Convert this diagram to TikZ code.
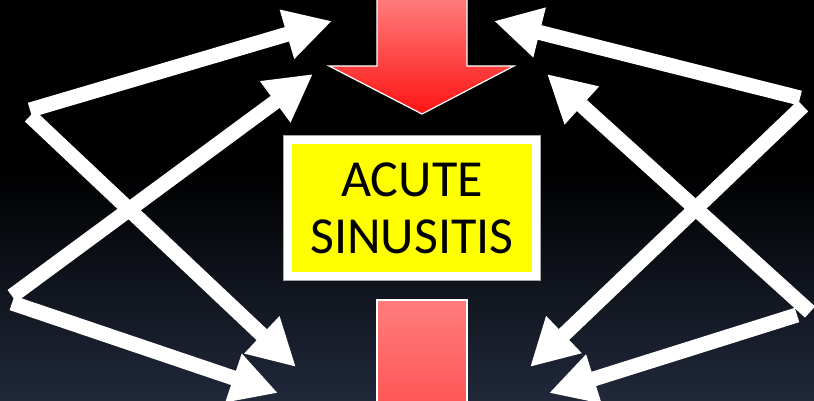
\documentclass[tikz,border=0pt]{standalone}
\usepackage{fontspec}
\setmainfont{Carlito}
\usetikzlibrary{arrows.meta,positioning,calc}
\definecolor{bgbot}{HTML}{20283A}
\definecolor{redlight}{HTML}{FF7C7C}
\definecolor{reddark}{HTML}{FF1414}
\definecolor{redmid}{HTML}{FF5656}
\definecolor{boxyellow}{HTML}{FFFF00}
\tikzset{
  flow/.style={white, line width=15pt, -{Triangle[length=47pt,width=48pt]}},
  bigarrow/.style={draw=white, line width=1.2pt},
  diagbox/.style={draw=white, line width=8pt, fill=boxyellow,
                  preaction={draw=gray!70, line width=9.6pt},
                  minimum width=248pt, minimum height=136pt,
                  align=center, font=\fontsize{52}{57}\selectfont,
                  inner sep=0pt}
}

\begin{document}
\begin{tikzpicture}[x=1pt,y=-1pt]
  % background
  \fill[black] (0,0) rectangle (814,170);
  \shade[top color=black, bottom color=bgbot] (0,170) rectangle (814,401);
  \useasboundingbox (0,0) rectangle (814,401);

  % red arrows
  \shade[bigarrow, top color=redlight, bottom color=reddark]
    (377,-2) -- (467,-2) -- (467,66) -- (514,66) -- (422,114)
    -- (329,66) -- (377,66) -- cycle;
  \shade[bigarrow, top color=redlight, bottom color=redmid]
    (377,300) rectangle (467,404);

  \node[diagbox] (sinus) at (412,208) {ACUTE\\SINUSITIS};

  % left side
  \coordinate (l1) at (30,110);
  \coordinate (l2) at (30,116);
  \coordinate (l3) at (12,296);
  \coordinate (l4) at (12,303);
  \coordinate (ul1) at (332,21);
  \coordinate (ul2) at (313,74);
  \coordinate (dl1) at (296,367);
  \coordinate (dl2) at (278,393);

  \draw[flow] (l1) -- (ul1);
  \draw[flow] (l2) -- (dl1);
  \draw[flow] (l3) -- (ul2);
  \draw[flow] (l4) -- (dl2);

  % right side
  \coordinate (r1) at (800,98);
  \coordinate (r2) at (803,106);
  \coordinate (r3) at (810,312);
  \coordinate (r4) at (797,315);
  \coordinate (ur1) at (494,21);
  \coordinate (ur2) at (547,74);
  \coordinate (dr1) at (530,367);
  \coordinate (dr2) at (549,393);

  \draw[flow] (r1) -- (ur1);
  \draw[flow] (r2) -- (dr1);
  \draw[flow] (r3) -- (ur2);
  \draw[flow] (r4) -- (dr2);
\end{tikzpicture}
\end{document}
